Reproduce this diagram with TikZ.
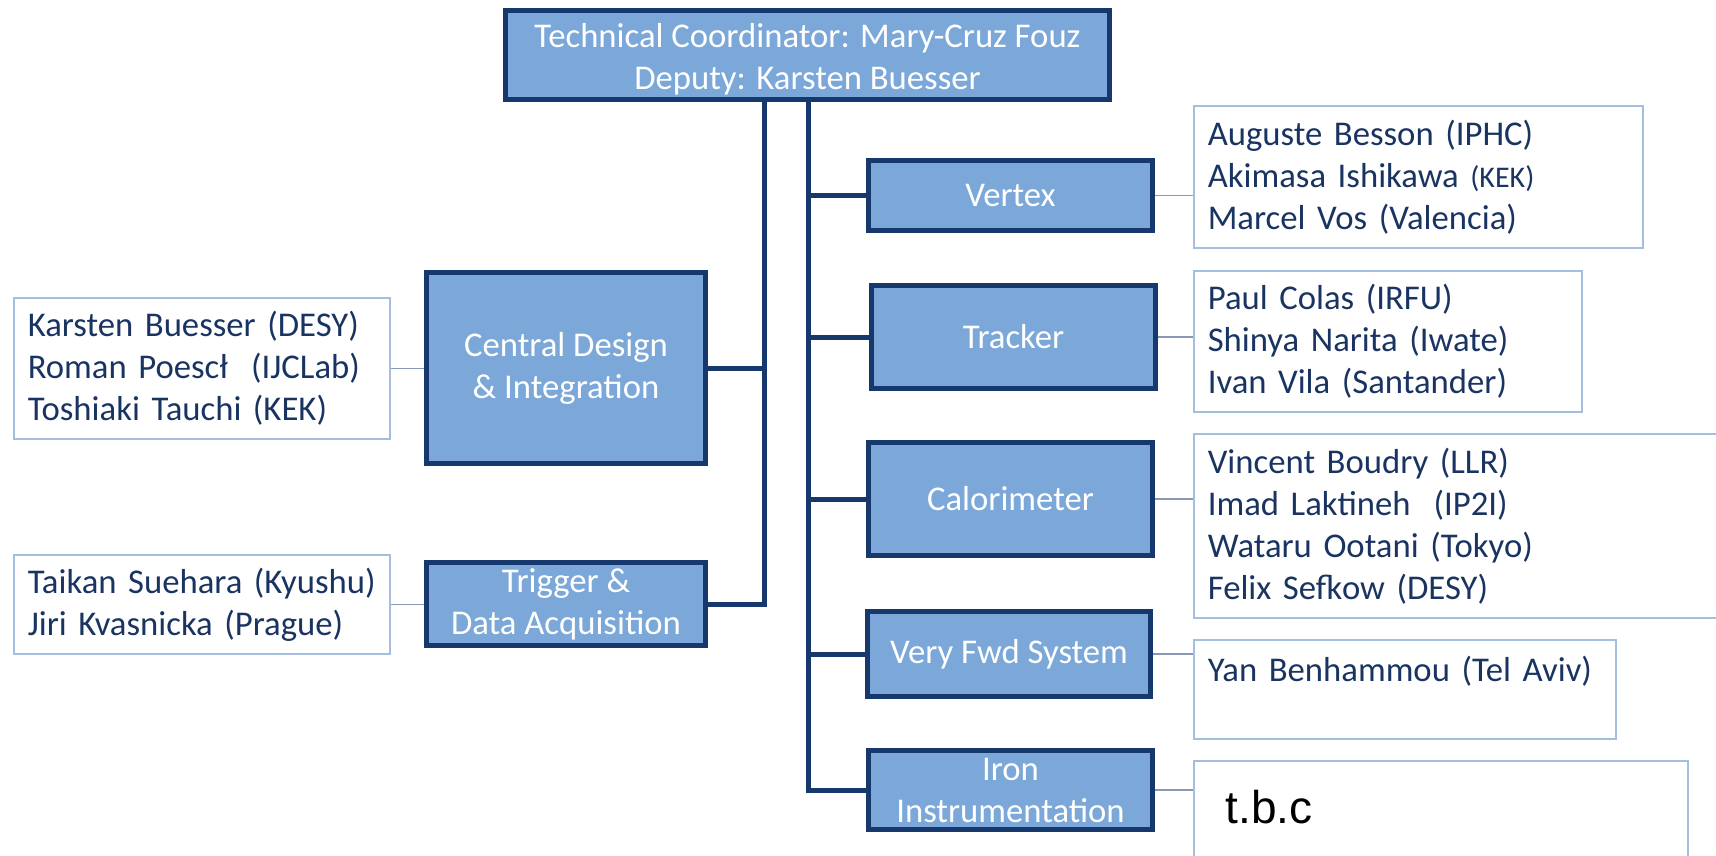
\documentclass[tikz,border=0pt]{standalone}
\usepackage{fontspec}
\setmainfont{Carlito}
\newfontfamily\tbcfont{Liberation Sans}
\definecolor{boxfill}{RGB}{123,168,216}
\definecolor{boxline}{RGB}{22,56,108}
\definecolor{nametext}{RGB}{26,52,98}
\definecolor{nameline}{RGB}{165,190,222}
\definecolor{linkline}{RGB}{135,153,180}

\begin{document}
\begin{tikzpicture}
[x=1pt,y=-1pt,every node/.style={font=\fontsize{34.7}{42}\selectfont},
unit/.style={draw=boxline,line width=5pt,fill=boxfill,text=white,align=center,inner sep=0pt},
names/.style={draw=nameline,line width=1.6pt,text=nametext,align=left,inner xsep=14pt,inner ysep=0pt,anchor=north west},
bus/.style={draw=boxline,line width=5pt},
link/.style={draw=linkline,line width=1.6pt}]
\useasboundingbox (0,0) rectangle (1716,855);
\node[unit,minimum width=604pt,minimum height=89pt,text height=74pt] (top) at (807.5,55) {Technical Coordinator: Mary-Cruz Fouz\\Deputy: Karsten Buesser};
\node[unit,minimum width=279pt,minimum height=191pt] (cdi) at (566,368) {Central Design\\\& Integration};
\node[unit,minimum width=279pt,minimum height=83pt] (trig) at (566,604) {Trigger \&\\Data Acquisition};
\node[unit,minimum width=284pt,minimum height=70pt] (vtx) at (1010.5,195.5) {Vertex};
\node[unit,minimum width=284pt,minimum height=103pt] (trk) at (1013.5,337) {Tracker};
\node[unit,minimum width=284pt,minimum height=113pt] (cal) at (1010.5,499) {Calorimeter};
\node[unit,minimum width=283pt,minimum height=85pt] (vfwd) at (1009,654) {Very Fwd System};
\node[unit,minimum width=284pt,minimum height=79pt] (iron) at (1010.5,790) {Iron\\Instrumentation};
\node[names,text width=348pt,minimum height=141pt] (ncdi) at (13,297) {Karsten Buesser (DESY)\\Roman Poescł~ (IJCLab)\\Toshiaki Tauchi (KEK)};
\node[names,text width=348pt,minimum height=99pt] (ntrig) at (13,554) {Taikan Suehara (Kyushu)\\Jiri Kvasnicka (Prague)};
\node[names,text width=421pt,minimum height=142pt] (nvtx) at (1193,105) {Auguste Besson (IPHC)\\Akimasa Ishikawa {\fontsize{30}{42}\selectfont(KEK)}\\Marcel Vos (Valencia)};
\node[names,text width=360pt,minimum height=141pt] (ntrk) at (1193,270) {Paul Colas (IRFU)\\Shinya Narita (Iwate)\\Ivan Vila (Santander)};
\node[names,text width=502pt,minimum height=184pt] (ncal) at (1193,433) {Vincent Boudry (LLR)\\Imad Laktineh~ (IP2I)\\Wataru Ootani (Tokyo)\\Felix Sefkow (DESY)};
\node[names,text width=394pt,minimum height=99pt] (nvfwd) at (1193,639) {Yan Benhammou (Tel Aviv)\\~};
\node[names,text width=430pt,text=black,font=\tbcfont\fontsize{46}{50}\selectfont,inner xsep=32pt,inner ysep=30pt,text height=33pt,text depth=60pt] (niron) at (1193,760) {t.b.c};
\coordinate (jL) at (764,100);
\coordinate (jR) at (808,100);
\draw[bus] (jL) |- (trig.east);
\draw[bus] (jR) |- (iron.west);
\draw[bus] (cdi.east) -- (cdi.east -| jL);
\foreach \n in {vtx,trk,cal,vfwd}
\draw[bus] (\n.west) -- (\n.west -| jR);
\foreach \a/\b in {ncdi/cdi,ntrig/trig,vtx/nvtx,trk/ntrk,cal/ncal,vfwd/nvfwd,iron/niron}
\draw[link] (\a.east) -- (\a.east -| \b.west);
\end{tikzpicture}
\end{document}
